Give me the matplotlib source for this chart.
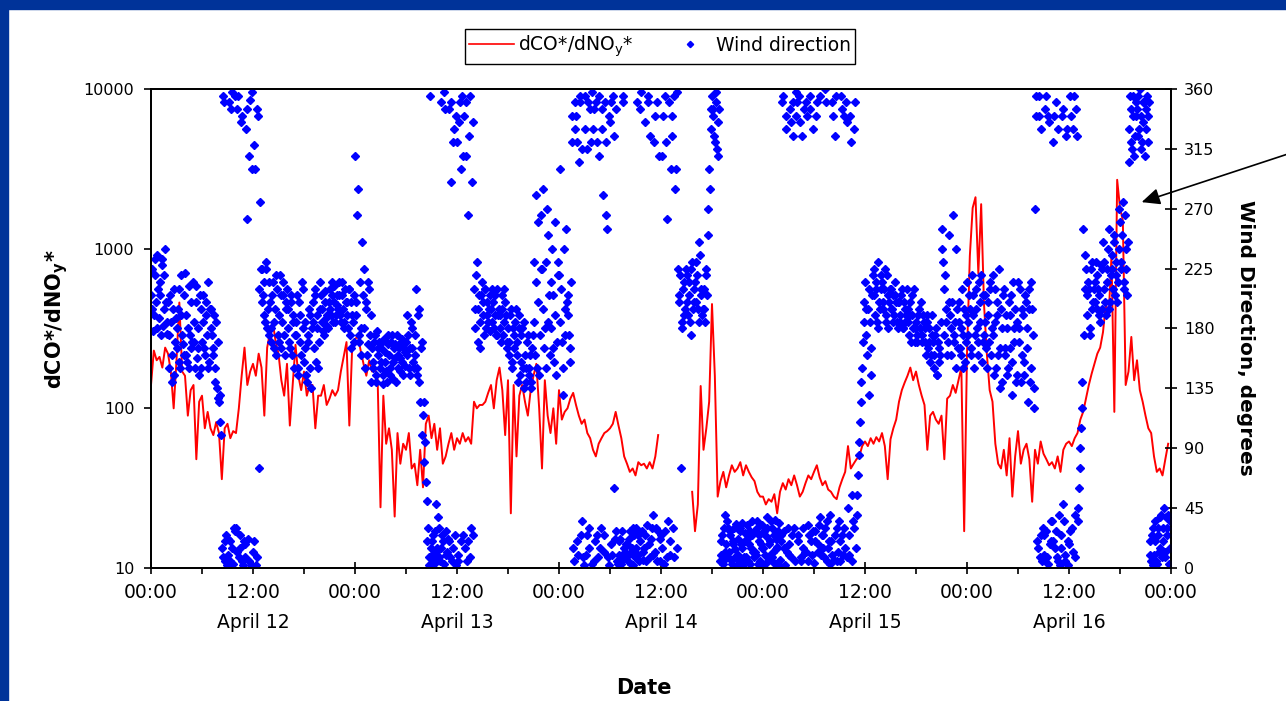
import numpy as np
import matplotlib.pyplot as plt
from matplotlib.patches import Rectangle
from matplotlib.lines import Line2D
from matplotlib.ticker import NullLocator, FixedLocator

# dCO*/dNOy* ratio, one value every 20 min from 00:00 April 12 (nan = no data)
ratio = [
    140, 230, 200,  210, 180, 240,  220, 170, 100,  200, 460, 170,   # 0-3 h
    160, 90, 130,   140, 48, 110,   120, 75, 95,    75, 68, 82,      # 4-7
    70, 36, 75,     80, 65, 72,     70, 100, 160,   240, 140, 170,   # 8-11
    190, 160, 220,  180, 90, 240,   300, 345, 260,  220, 150, 120,   # 12-15
    190, 78, 140,   250, 160, 130,  170, 120, 140,  140, 75, 120,    # 16-19
    120, 140, 105,  115, 130, 120,  130, 170, 210,  260, 78, 240,    # 20-23
    270, 285, 230,  190, 160, 200,  170, 180, 150,  24, 120, 60,     # 24-27
    75, 55, 21,     70, 45, 60,     55, 70, 42,     45, 33, 55,      # 28-31
    32, 80, 90,     65, 80, 55,     75, 45, 50,     60, 70, 55,      # 32-35
    65, 60, 70,     62, 66, 60,     110, 100, 105,  105, 110, 125,   # 36-39
    140, 100, 150,  180, 130, 68,   150, 22, 140,   50, 120, 140,    # 40-43
    110, 90, 130,   160, 190, 100,  42, 150, 90,    70, 100, 60,     # 44-47
    130, 85, 95,    100, 115, 125,  105, 90, 80,    85, 70, 65,      # 48-51
    55, 50, 60,     65, 70, 72,     75, 80, 95,     78, 65, 50,      # 52-55
    45, 40, 42,     38, 46, 44,     45, 42, 46,     42, 50, 68,      # 56-59
    np.nan, np.nan, np.nan,  np.nan, np.nan, np.nan,
    np.nan, np.nan, np.nan,  np.nan, np.nan, 30,                     # 60-63
    17, 25, 138,    55, 75, 110,    450, 160, 28,   35, 40, 32,      # 64-67
    38, 44, 40,     42, 46, 38,     44, 40, 37,     35, 30, 28,      # 68-71
    28, 25, 27,     26, 29, 22,     30, 34, 31,     36, 33, 38,      # 72-75
    33, 28, 30,     34, 38, 36,     40, 44, 37,     33, 35, 31,      # 76-79
    30, 28, 27,     32, 36, 40,     58, 42, 45,     48, 50, 58,      # 80-83
    62, 58, 65,     60, 66, 62,     70, 58, 36,     64, 75, 85,      # 84-87
    110, 130, 145,  160, 180, 150,  170, 140, 120,  105, 55, 90,     # 88-91
    95, 85, 80,     90, 48, 115,    120, 140, 125,  150, 180, 17,    # 92-95
    220, 900, 1800, 2100, 700, 1900, 450, 220, 130, 110, 60, 45,     # 96-99
    42, 55, 38,     65, 28, 50,     72, 45, 55,     60, 48, 26,      # 100-103
    55, 45, 62,     52, 48, 44,     46, 42, 50,     40, 55, 60,      # 104-107
    62, 58, 65,     70, 85, 95,     115, 140, 165,  190, 220, 240,   # 108-111
    300, 450, 380,  900, 95, 2700,  1800, 1500, 140, 170, 280, 150,  # 112-115
    200, 130, 110,  90, 75, 70,     50, 40, 42,     38, 48, 60,      # 116-119
]

# wind direction in degrees, readings at :00, :10, :20 ... of each hour
wind_a = [
    205, 225, 190, 232, 180, 210,   215, 175, 228, 195, 240, 185,   # 0-1 h
    200, 150, 185, 140, 210, 170,   165, 195, 155, 220, 175, 160,   # 2-3
    222, 160, 180, 150, 200, 170,   185, 150, 212, 165, 145, 195,   # 4-5
    170, 205, 160, 190, 215, 155,   195, 175, 165, 140, 185, 128,   # 6-7
    125, 110, 15, 355, 5, 25,       10, 350, 20, 358, 3, 28,        # 8-9
    30, 345, 8, 15, 340, 2,         18, 330, 262, 5, 352, 300,      # 10-11
    12, 318, 2, 345, 75, 275,       225, 205, 190, 230, 180, 215,   # 12-13
    200, 170, 215, 185, 160, 210,   190, 220, 165, 205, 175, 195,   # 14-15
    210, 180, 165, 200, 190, 150,   175, 205, 145, 190, 160, 210,   # 16-17
    155, 185, 140, 170, 190, 135,   200, 165, 210, 180, 150, 195,   # 18-19
    205, 185, 175, 200, 190, 180,   210, 190, 215, 200, 185, 205,   # 20-21
    195, 215, 185, 205, 180, 210,   200, 180, 210, 165, 190, 205,   # 22-23
    310, 200, 285, 175, 160, 245,   225, 150, 195, 168, 210, 140,   # 24-25
    165, 150, 175, 140, 160, 170,   155, 170, 138, 162, 148, 175,   # 26-27
    160, 145, 175, 155, 168, 140,   150, 165, 158, 172, 145, 162,   # 28-29
    170, 190, 150, 165, 180, 155,   160, 210, 145, 195, 125, 170,   # 30-31
    115, 80, 65, 20, 8, 355,        10, 25, 3, 48, 15, 30,          # 32-33
    5, 350, 20, 358, 28, 12,        345, 8, 290, 15, 330, 2,        # 34-35
    320, 10, 350, 300, 25, 340,     310, 5, 265, 355, 30, 335,      # 36-37
    210, 180, 230, 195, 165, 205,   200, 175, 210, 190, 185, 205,   # 38-39
    195, 210, 180, 205, 175, 190,   190, 170, 205, 185, 200, 165,   # 40-41
    180, 160, 195, 150, 175, 185,   170, 140, 190, 155, 180, 135,   # 42-43
    160, 140, 175, 150, 135, 165,   230, 160, 280, 200, 145, 265,   # 44-45
    225, 285, 180, 150, 250, 205,   215, 240, 165, 190, 145, 230,   # 46-47
    220, 300, 170, 130, 195, 255,   205, 175, 155, 320, 15, 350,    # 48-49
    340, 20, 305, 355, 35, 8,       355, 10, 315, 30, 345, 3,       # 50-51
    330, 5, 350, 25, 310, 15,       345, 280, 12, 320, 255, 2,      # 52-53
    335, 18, 355, 60, 28, 5,        10, 22, 3, 350, 15, 8,          # 54-55
    18, 5, 28, 12, 2, 25,           30, 350, 10, 20, 358, 6,        # 56-57
    15, 335, 32, 355, 8, 22,        40, 320, 12, 350, 28, 5,        # 58-59
    25, 310, 3, 355, 262, 35,       20, 300, 340, 8, 285, 358,      # 60-61
    225, 200, 75, 185, 215, 195,    220, 190, 205, 175, 230, 200,   # 62-63
    215, 230, 195, 245, 205, 190,   210, 185, 225, 270, 300, 330,   # 64-65
    355, 340, 320, 350, 310, 345,   10, 25, 5, 40, 18, 30,          # 66-67
    12, 28, 3, 20, 8, 33,           22, 5, 30, 15, 2, 26,           # 68-69
    8, 32, 18, 3, 25, 12,           28, 10, 35, 20, 5, 15,          # 70-71
    15, 2, 24, 38, 9, 20,           30, 12, 4, 22, 16, 34,          # 72-73
    6, 20, 355, 28, 340, 12,        18, 345, 8, 325, 30, 358,       # 74-75
    350, 25, 335, 5, 15, 345,       12, 340, 32, 355, 20, 330,      # 76-77
    4, 28, 350, 18, 38, 10,         25, 8, 360, 35, 15, 3,          # 78-79
    20, 350, 6, 325, 30, 12,        5, 355, 25, 340, 15, 335,       # 80-81
    45, 10, 320, 55, 30, 350,       40, 70, 95, 125, 150, 185,      # 82-83
    215, 175, 195, 130, 165, 205,   225, 190, 210, 180, 200, 220,   # 84-85
    215, 195, 225, 185, 205, 200,   210, 195, 185, 205, 200, 180,   # 86-87
    200, 185, 210, 180, 195, 190,   195, 175, 190, 205, 180, 170,   # 88-89
    185, 170, 195, 180, 175, 190,   180, 160, 190, 170, 155, 175,   # 90-91
    170, 150, 180, 145, 165, 160,   255, 230, 210, 185, 160, 200,   # 92-93
    190, 160, 265, 175, 150, 195,   200, 165, 180, 150, 195, 170,   # 94-95
    215, 175, 195, 160, 205, 150,   210, 180, 160, 200, 220, 170,   # 96-97
    175, 205, 150, 190, 215, 160,   220, 145, 185, 200, 160, 135,   # 98-99
    195, 140, 210, 165, 180, 150,   165, 205, 130, 180, 195, 145,   # 100-101
    215, 170, 140, 195, 155, 205,   180, 125, 210, 150, 195, 120,   # 102-103
    270, 355, 15, 340, 25, 5,       10, 345, 28, 3, 335, 20,        # 104-105
    35, 320, 15, 350, 5, 40,        25, 340, 48, 10, 325, 2,        # 106-107
    18, 355, 30, 330, 8, 345,       35, 60, 90, 120, 255, 235,      # 108-109
    225, 190, 210, 175, 230, 200,   215, 230, 195, 205, 185, 225,   # 110-111
    245, 210, 190, 225, 255, 200,   235, 210, 250, 220, 200, 270,   # 112-113
    260, 225, 275, 215, 240, 205,   305, 355, 320, 340, 310, 350,   # 114-115
    345, 325, 360, 315, 335, 350,   330, 355, 340, 20, 5, 30,       # 116-117
    10, 35, 3, 25, 15, 40,          20, 45, 8, 30, 40, 15,          # 118-119
]

# wind direction in degrees, readings at :05, :15, :25 ... of each hour
wind_b = [
    195, 178, 220, 200, 235, 188,   205, 232, 182, 220, 200, 176,   # 0-1 h
    175, 205, 160, 195, 145, 188,   180, 210, 150, 190, 168, 205,   # 2-3
    190, 155, 212, 175, 165, 215,   170, 200, 158, 180, 205, 150,   # 4-5
    185, 165, 200, 175, 150, 195,   180, 160, 190, 150, 135, 170,   # 6-7
    130, 100, 8, 350, 20, 2,        22, 5, 345, 15, 30, 355,        # 8-9
    12, 355, 25, 335, 5, 20,        8, 345, 22, 310, 2, 358,        # 10-11
    20, 300, 8, 340, 210, 225,      200, 215, 185, 225, 195, 175,   # 12-13
    180, 205, 165, 195, 220, 175,   170, 205, 185, 215, 160, 200,   # 14-15
    195, 170, 205, 160, 185, 175,   185, 150, 200, 170, 215, 180,   # 16-17
    165, 145, 175, 195, 150, 180,   185, 205, 155, 190, 170, 215,   # 18-19
    195, 178, 208, 188, 182, 200,   195, 205, 185, 212, 190, 198,   # 20-21
    205, 190, 215, 195, 185, 200,   190, 210, 175, 200, 185, 170,   # 22-23
    190, 265, 170, 215, 180, 205,   180, 200, 160, 215, 175, 190,   # 24-25
    155, 170, 145, 178, 165, 150,   165, 145, 172, 155, 140, 168,   # 26-27
    150, 170, 142, 165, 158, 175,   160, 148, 170, 155, 165, 152,   # 28-29
    160, 175, 145, 185, 165, 150,   175, 150, 190, 140, 165, 100,   # 30-31
    125, 95, 50, 30, 2, 15,         20, 5, 28, 12, 38, 8,           # 32-33
    15, 25, 3, 345, 10, 22,         20, 350, 5, 320, 25, 340,       # 34-35
    5, 335, 20, 355, 310, 15,       350, 20, 325, 8, 290, 25,       # 36-37
    195, 220, 170, 205, 185, 215,   190, 210, 180, 200, 195, 178,   # 38-39
    185, 200, 190, 175, 210, 195,   180, 195, 175, 210, 190, 170,   # 40-41
    170, 190, 155, 180, 165, 195,   160, 180, 145, 175, 150, 185,   # 42-43
    150, 170, 145, 160, 140, 175,   185, 215, 150, 260, 175, 225,   # 44-45
    195, 165, 230, 270, 185, 160,   180, 205, 155, 260, 170, 220,   # 46-47
    185, 210, 150, 240, 175, 200,   190, 165, 215, 340, 5, 330,     # 48-49
    320, 10, 350, 25, 315, 2,       330, 25, 350, 15, 320, 358,     # 50-51
    345, 20, 320, 8, 355, 30,       330, 25, 350, 265, 8, 340,      # 52-53
    350, 10, 325, 22, 345, 3,       20, 5, 28, 355, 12, 18,         # 54-55
    10, 22, 3, 15, 30, 8,           15, 25, 5, 345, 28, 12,         # 56-57
    25, 5, 350, 18, 325, 30,        10, 340, 30, 5, 310, 22,        # 58-59
    15, 340, 28, 320, 8, 350,       10, 325, 30, 355, 300, 15,      # 60-61
    205, 220, 180, 210, 190, 225,   200, 215, 185, 225, 195, 210,   # 62-63
    200, 220, 185, 235, 210, 195,   195, 220, 205, 250, 285, 345,   # 64-65
    345, 325, 358, 315, 335, 5,     20, 3, 30, 12, 35, 8,           # 66-67
    25, 6, 18, 30, 14, 2,           10, 28, 18, 34, 8, 20,          # 68-69
    22, 5, 28, 15, 35, 8,           12, 30, 3, 25, 18, 32,          # 70-71
    28, 10, 30, 5, 18, 35,          8, 25, 36, 14, 28, 2,           # 72-73
    25, 350, 15, 2, 330, 30,        10, 335, 25, 350, 5, 340,       # 74-75
    20, 355, 8, 325, 30, 12,        350, 5, 25, 345, 10, 28,        # 76-77
    20, 340, 12, 32, 355, 25,       15, 30, 350, 5, 20, 40,         # 78-79
    10, 340, 25, 355, 5, 35,        20, 345, 10, 30, 350, 8,        # 80-81
    25, 340, 5, 35, 330, 15,        55, 85, 110, 140, 170, 200,     # 82-83
    195, 160, 210, 185, 145, 220,   205, 215, 185, 230, 195, 210,   # 84-85
    200, 210, 190, 220, 180, 210,   195, 205, 190, 215, 185, 200,   # 86-87
    190, 205, 180, 200, 185, 210,   185, 200, 170, 190, 210, 180,   # 88-89
    175, 190, 180, 200, 170, 185,   170, 185, 165, 180, 160, 190,   # 90-91
    160, 175, 145, 170, 155, 185,   240, 175, 220, 195, 170, 250,   # 92-93
    180, 200, 170, 185, 240, 165,   185, 160, 210, 175, 155, 190,   # 94-95
    185, 205, 165, 220, 190, 175,   195, 170, 215, 185, 155, 205,   # 96-97
    185, 165, 200, 170, 210, 180,   175, 210, 150, 190, 225, 165,   # 98-99
    180, 205, 160, 190, 145, 200,   190, 155, 215, 170, 140, 185,   # 100-101
    180, 210, 160, 190, 145, 200,   165, 195, 140, 215, 175, 135,   # 102-103
    340, 20, 355, 8, 330, 30,       25, 355, 8, 340, 18, 35,        # 104-105
    20, 340, 28, 8, 330, 2,         15, 345, 35, 5, 330, 20,        # 106-107
    28, 340, 12, 355, 40, 325,      45, 75, 105, 140, 175, 210,     # 108-109
    205, 215, 180, 225, 195, 210,   200, 220, 210, 190, 228, 195,   # 110-111
    230, 200, 215, 240, 195, 220,   225, 245, 205, 230, 215, 240,   # 112-113
    230, 250, 210, 265, 225, 245,   330, 345, 315, 355, 325, 340,   # 114-115
    355, 330, 340, 320, 350, 310,   345, 320, 350, 10, 25, 2,       # 116-117
    20, 5, 30, 12, 38, 8,           30, 12, 38, 25, 3, 35,          # 118-119
]

tick_hours = [0, 12, 24, 36, 48, 60, 72, 84, 96, 108, 120]
tick_labels = ['00:00', '12:00\nApril 12', '00:00', '12:00\nApril 13', '00:00',
               '12:00\nApril 14', '00:00', '12:00\nApril 15', '00:00',
               '12:00\nApril 16', '00:00']
ratio_ticks = [10, 100, 1000, 10000]
wind_ticks = [0, 45, 90, 135, 180, 225, 270, 315, 360]

t_ratio = np.arange(len(ratio)) / 3.0
t_wind_a = np.arange(len(wind_a)) / 6.0
t_wind_b = (np.arange(len(wind_b)) + 0.5) / 6.0

W, H = 1286, 701
fig = plt.figure(figsize=(W / 100, H / 100), dpi=100)
fig.patches.append(Rectangle((0, 1 - 9 / H), 1, 9 / H, transform=fig.transFigure,
                             color='#003399', zorder=0))
fig.patches.append(Rectangle((0, 0), 8 / W, 1, transform=fig.transFigure,
                             color='#003399', zorder=0))

ax = fig.add_axes([151 / W, 1 - 568 / H, 1020 / W, 479 / H])
ax.plot(t_ratio, ratio, color='#ff0000', lw=1.4)
ax.set_yscale('log')
ax.set_ylim(10, 10000)
ax.set_xlim(0, 120)
ax.yaxis.set_major_locator(FixedLocator(ratio_ticks))
ax.yaxis.set_minor_locator(NullLocator())
ax.set_yticklabels([str(v) for v in ratio_ticks])
ax.set_xticks(tick_hours)
ax.set_xticklabels(tick_labels, linespacing=1.75)
ax.set_xticks(np.arange(6, 120, 12), minor=True)
ax.tick_params(axis='y', which='major', direction='out', length=5, width=1.2,
               pad=7, labelsize=11.5)
ax.tick_params(axis='x', which='major', direction='inout', length=9, width=1.2,
               pad=6, labelsize=13.5)
ax.tick_params(axis='x', which='minor', direction='out', length=4, width=1.2)
for s in ax.spines.values():
    s.set_linewidth(1.3)

ax2 = ax.twinx()
for tw, wd in ((t_wind_a, wind_a), (t_wind_b, wind_b)):
    ax2.plot(tw, wd, ls='none', marker='D', ms=4.0, color='#0000ff', mec='#0000ff')
ax2.set_ylim(0, 360)
ax2.set_yticks(wind_ticks)
ax2.tick_params(axis='y', direction='inout', length=9, width=1.2, pad=5, labelsize=11.5)
for s in ax2.spines.values():
    s.set_linewidth(1.3)

ax.set_ylabel(r'dCO*/dNO$_\mathbf{y}$*', fontsize=15, fontweight='bold', va='center')
ax.yaxis.set_label_coords(-0.093, 0.52)
ax2.set_ylabel('Wind Direction, degrees', fontsize=14.5, fontweight='bold',
               rotation=-90, va='center')
ax2.yaxis.set_label_coords(1.073, 0.48)
ax.set_xlabel('Date', fontsize=15, fontweight='bold', va='center')
ax.xaxis.set_label_coords(0.483, -0.25)

handles = [Line2D([], [], color='#ff0000', lw=1.2),
           Line2D([], [], ls='none', marker='D', ms=3.2, color='#0000ff')]
leg = fig.legend(handles, [r'dCO*/dNO$_\mathrm{y}$*', 'Wind direction'],
                 loc='center', bbox_to_anchor=(660 / W, 1 - 46.5 / H), ncol=2,
                 fancybox=False, edgecolor='black', framealpha=1, fontsize=13.5,
                 borderpad=0.25, handlelength=2.4, handletextpad=0.2,
                 columnspacing=1.8)
leg.get_frame().set_linewidth(1.0)

ax2.annotate('', xy=(1139, H - 203), xycoords='figure pixels',
             xytext=(1300, H - 150), textcoords='figure pixels',
             arrowprops=dict(arrowstyle='-|>,head_length=0.55,head_width=0.25',
                             color='black', lw=1.2, mutation_scale=20))

fig.savefig('out.png', dpi=100)
